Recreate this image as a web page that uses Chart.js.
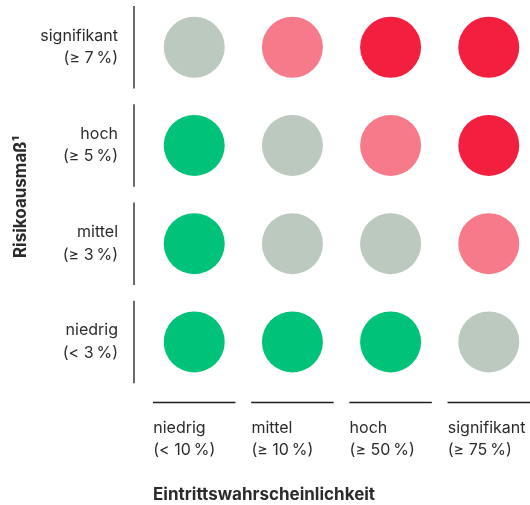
<!DOCTYPE html>
<html>
<head>
<meta charset="utf-8">
<script src="https://cdn.jsdelivr.net/npm/chart.js@4/dist/chart.umd.min.js"></script>
<style>
  html, body { margin: 0; padding: 0; background: #fff; }
  #wrap { width: 530px; height: 505px; }
</style>
</head>
<body>
<div id="wrap"><canvas id="chart"></canvas></div>
<script>
// categories along both axes
const probLabels = [["niedrig", "(< 10\u202f%)"], ["mittel", "(≥ 10\u202f%)"], ["hoch", "(≥ 50\u202f%)"], ["signifikant", "(≥ 75\u202f%)"]]
const impactLabels = [["niedrig", "(< 3\u202f%)"], ["mittel", "(≥ 3\u202f%)"], ["hoch", "(≥ 5\u202f%)"], ["signifikant", "(≥ 7\u202f%)"]]

// risk level per cell, rows from bottom (niedrig) to top (signifikant)
const riskRows = [
    ["low", "low", "low", "neutral"],
    ["low", "neutral", "neutral", "elevated"],
    ["low", "neutral", "elevated", "high"],
    ["neutral", "elevated", "high", "high"],
]
const riskColors = {
    low: "#00c279",
    neutral: "#bbc9bf",
    elevated: "#f77a8b",
    high: "#f31f3e",
}

const FONT = "Inter, 'Noto Sans', sans-serif"
const TEXT = "#2b2b2b"

const points = []
const colors = []
riskRows.forEach((row, y) => {
    row.forEach((level, x) => {
        points.push({ x: x, y: y })
        colors.push(riskColors[level])
    })
})

// labels may overflow the chart edges, keep the plot area fixed
function noEdgePadding(scale) {
    scale.paddingLeft = 0
    scale.paddingRight = 0
    scale.paddingTop = 0
    scale.paddingBottom = 0
}

// short separator lines along both axes, taken from the scale positions
const separators = {
    id: "separators",
    afterDraw(chart) {
        const { ctx, scales, chartArea } = chart
        const xs = scales.x, ys = scales.y
        ctx.save()
        ctx.lineWidth = 2
        ctx.strokeStyle = "#6b6b6b"
        for (let i = 0; i < impactLabels.length; i++) {
            const lineX = chartArea.left - 19
            ctx.beginPath()
            ctx.moveTo(lineX, ys.getPixelForValue(i + 0.42))
            ctx.lineTo(lineX, ys.getPixelForValue(i - 0.42))
            ctx.stroke()
        }
        ctx.lineWidth = 1.5
        ctx.strokeStyle = "#1e1e1e"
        for (let i = 0; i < probLabels.length; i++) {
            const lineY = chartArea.bottom + 11.5
            ctx.beginPath()
            ctx.moveTo(xs.getPixelForValue(i - 0.42), lineY)
            ctx.lineTo(xs.getPixelForValue(i + 0.42), lineY)
            ctx.stroke()
        }
        ctx.restore()
    }
}

new Chart(document.getElementById("chart"), {
    type: "scatter",
    data: {
        datasets: [{
            data: points,
            pointRadius: 30.5,
            pointHoverRadius: 30.5,
            pointBackgroundColor: colors,
            pointBorderWidth: 0,
            clip: false,
        }]
    },
    options: {
        responsive: true,
        maintainAspectRatio: false,
        animation: false,
        layout: { autoPadding: false, padding: { top: 3, right: 0, left: 0, bottom: 0 } },
        plugins: { legend: { display: false }, tooltip: { enabled: false } },
        scales: {
            x: {
                min: -0.42,
                max: 3.42,
                grid: { display: false, drawTicks: false },
                border: { display: false },
                afterBuildTicks: (scale) => { scale.ticks = probLabels.map((_, i) => ({ value: i })) },
                afterFit: (scale) => { scale.height = 114; noEdgePadding(scale) },
                ticks: {
                    callback: (v) => probLabels[v],
                    align: "start",
                    labelOffset: -41,
                    padding: 26,
                    maxRotation: 0,
                    autoSkip: false,
                    color: TEXT,
                    font: { family: FONT, size: 16, lineHeight: 1.4 },
                },
                title: {
                    display: true,
                    text: "Eintrittswahrscheinlichkeit",
                    align: "start",
                    color: TEXT,
                    font: { family: FONT, size: 17, weight: "bold" },
                    padding: { top: 20, bottom: 0 },
                },
            },
            y: {
                min: -0.5,
                max: 3.45,
                grid: { display: false, drawTicks: false },
                border: { display: false },
                afterBuildTicks: (scale) => { scale.ticks = impactLabels.map((_, i) => ({ value: i })) },
                afterFit: (scale) => { scale.width = 153; noEdgePadding(scale) },
                ticks: {
                    callback: (v) => impactLabels[v],
                    padding: 35,
                    autoSkip: false,
                    color: TEXT,
                    font: { family: FONT, size: 16, lineHeight: 1.4 },
                },
                title: {
                    display: true,
                    text: "Risikoausmaß¹",
                    color: TEXT,
                    font: { family: FONT, size: 17, weight: "bold" },
                    padding: { top: 11, bottom: 0 },
                },
            },
        },
    },
    plugins: [separators],
})
</script>
</body>
</html>
